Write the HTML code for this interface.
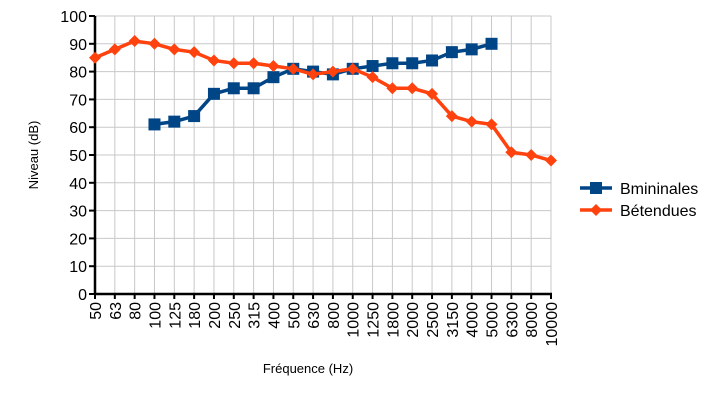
<!DOCTYPE html>
<html><head><meta charset="utf-8"><style>body{margin:0;background:#fff}svg{display:block;font-family:"Liberation Sans",sans-serif}</style></head>
<body>
<svg id="s" width="712" height="400" xmlns="http://www.w3.org/2000/svg"></svg>
<script>
var s=document.getElementById('s'),h='';
var cats=[50,63,80,100,125,180,200,250,315,400,500,630,800,1000,1250,1800,2000,2500,3150,4000,5000,6300,8000,10000];
var X=function(i){return 95+i*456/23},Y=function(v){return 294-2.78*v};
for(var v=0;v<=100;v+=10){h+='<line x1="95" x2="551" y1="'+Y(v)+'" y2="'+Y(v)+'" stroke="#c8c8c8" stroke-width="1"/>';
h+='<line x1="89" x2="95" y1="'+Y(v)+'" y2="'+Y(v)+'" stroke="#000" stroke-width="2"/>';
h+='<text x="87" y="'+(Y(v)+6)+'" font-size="16" text-anchor="end">'+v+'</text>';}
for(var i=0;i<24;i++){var x=X(i);h+='<line x1="'+x+'" x2="'+x+'" y1="16" y2="294" stroke="#c8c8c8"/>';
h+='<line x1="'+x+'" x2="'+x+'" y1="294" y2="299" stroke="#000" stroke-width="2"/>';
h+='<text transform="translate('+(x+6)+',302) rotate(-90)" font-size="16" text-anchor="end">'+cats[i]+'</text>';}
h+='<line x1="95" x2="95" y1="16" y2="295" stroke="#000" stroke-width="2.5"/><line x1="94" x2="552" y1="294" y2="294" stroke="#000" stroke-width="2.5"/>';
var o=[85,88,91,90,88,87,84,83,83,82,81,79,80,81,78,74,74,72,64,62,61,51,50,48];
var b=[61,62,64,72,74,74,78,81,80,79,81,82,83,83,84,87,88,90];
var p=o.map(function(v,i){return X(i)+','+Y(v)}).join(' ');
var q=b.map(function(v,i){return X(i+3)+','+Y(v)}).join(' ');
h+='<polyline points="'+q+'" fill="none" stroke="#004586" stroke-width="3.5"/>';
b.forEach(function(v,i){h+='<rect x="'+(X(i+3)-6)+'" y="'+(Y(v)-6)+'" width="12" height="12" fill="#004586"/>'});
h+='<polyline points="'+p+'" fill="none" stroke="#ff420e" stroke-width="3.5"/>';
o.forEach(function(v,i){var x=X(i),y=Y(v);h+='<polygon points="'+x+','+(y-6)+' '+(x+6)+','+y+' '+x+','+(y+6)+' '+(x-6)+','+y+'" fill="#ff420e"/>'});
h+='<line x1="580" x2="612" y1="188" y2="188" stroke="#004586" stroke-width="3.5"/><rect x="590" y="182" width="12" height="12" fill="#004586"/>';
h+='<text x="620" y="194" font-size="16">Bmininales</text>';
h+='<line x1="580" x2="612" y1="210" y2="210" stroke="#ff420e" stroke-width="3.5"/><polygon points="596,204 602,210 596,216 590,210" fill="#ff420e"/>';
h+='<text x="620" y="216" font-size="16">Bétendues</text>';
h+='<text transform="translate(38,155) rotate(-90)" font-size="13" text-anchor="middle">Niveau (dB)</text>';
h+='<text x="308" y="373" font-size="13" text-anchor="middle">Fréquence (Hz)</text>';
s.innerHTML=h;
</script>
</body></html>
